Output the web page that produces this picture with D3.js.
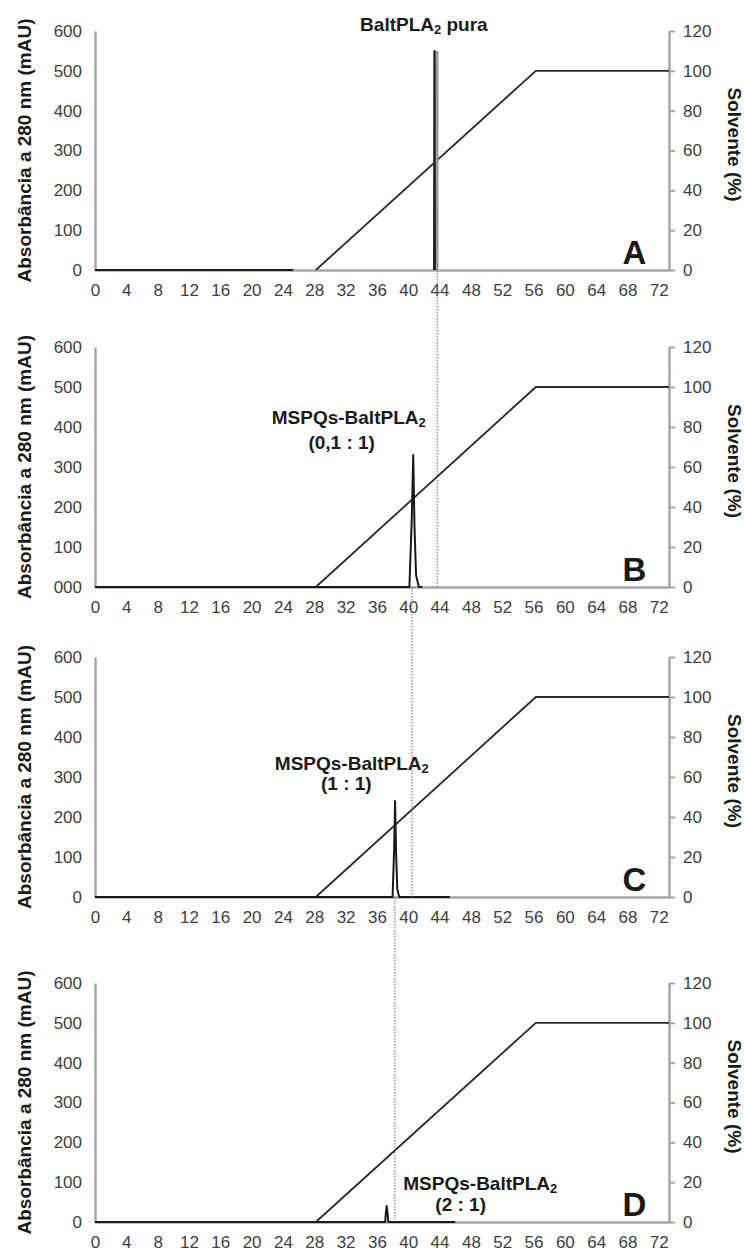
<!DOCTYPE html>
<html lang="pt">
  <head>
    <meta charset="UTF-8" />
    <title>Cromatogramas BaltPLA2</title>
    <script src="https://d3js.org/d3.v7.min.js"></script>
    <style>
      * {
        margin: 0;
        padding: 0;
      }
      body {
        background: #fff;
      }
      text {
        font-family: "Liberation Sans", Arial, sans-serif;
      }
      .tick text {
        font-size: 17px;
        fill: #404040;
      }
      .axis-title {
        font-size: 19px;
        font-weight: bold;
        fill: #1a1a1a;
      }
      .panel-letter {
        font-size: 33px;
        font-weight: bold;
        fill: #1a1a1a;
      }
      .note {
        font-size: 19px;
        font-weight: bold;
        fill: #1a1a1a;
      }
    </style>
  </head>

  <body></body>

  <script>
    const w = 744;
    const h = 1251;

    // eixos
    const timeTicks = [0, 4, 8, 12, 16, 20, 24, 28, 32, 36, 40, 44, 48, 52, 56, 60, 64, 68, 72];
    const absTicks = [0, 100, 200, 300, 400, 500, 600];
    const solvTicks = [0, 20, 40, 60, 80, 100, 120];
    const zeroLabels = ["0", "000", "0", "0"]; // o painel B mostra "000"

    // gradiente de solvente (%), igual nos 4 paineis
    const gradTime = [28.2, 56.3, 73.3];
    const gradPct = [0, 100, 100];

    // cromatogramas (null = interrupcao da linha)
    const timeA = [0, 25.3, 25.4, 43.3, 43.35, 43.4];
    const absA = [0, 0, null, 0, 550, 0];
    const pureTime = [43.55, 43.55]; // faixa cinza da BaltPLA2 pura
    const pureAbs = [0, 550];

    const timeB = [0, 40.15, 40.45, 40.64, 40.8, 41.0, 41.35, 41.8];
    const absB = [0, 0, 170, 330, 150, 30, 0, 0];

    const timeC = [0, 38.0, 38.2, 38.32, 38.45, 38.6, 38.85, 45.3];
    const absC = [0, 0, 120, 240, 110, 20, 0, 0];

    const timeD = [0, 37.05, 37.15, 37.25, 37.35, 37.45, 46];
    const absD = [0, 0, 25, 40, 25, 0, 0];

    // linhas pontilhadas que ligam o pico de um painel ao seguinte
    const linkTime = [43.7, 40.48, 38.3];

    // anotacoes: [tempo, absorbancia] da linha de base do texto
    const notes = [
      [{ t: 42.0, v: 600, text: "BaltPLA", sub: "2", after: " pura" }],
      [
        { t: 32.4, v: 408, text: "MSPQs-BaltPLA", sub: "2", after: "" },
        { t: 31.5, v: 345, text: "(0,1 : 1)", sub: "", after: "" },
      ],
      [
        { t: 32.8, v: 318, text: "MSPQs-BaltPLA", sub: "2", after: "" },
        { t: 32.1, v: 267, text: "(1 : 1)", sub: "", after: "" },
      ],
      [
        { t: 49.2, v: 80, text: "MSPQs-BaltPLA", sub: "2", after: "" },
        { t: 46.7, v: 28, text: "(2 : 1)", sub: "", after: "" },
      ],
    ];

    const traces = [
      [timeA, absA],
      [timeB, absB],
      [timeC, absC],
      [timeD, absD],
    ];
    const letters = ["A", "B", "C", "D"];

    // layout dos paineis
    const panelTop = [31, 347, 657, 983];
    const panelBottom = [270, 587, 897, 1222];
    const left = 95;
    const right = 669;
    const axisGray = "#a6a6a6";

    let svg = d3
      .select("body")
      .append("svg")
      .attr("width", w)
      .attr("height", h);

    let x = d3.scaleLinear().domain([0, 73.3]).range([left, right]);

    let ys = [];

    panelTop.forEach((top, i) => {
      let bottom = panelBottom[i];
      let y = d3.scaleLinear().domain([0, 600]).range([bottom, top]);
      let y2 = d3.scaleLinear().domain([0, 120]).range([bottom, top]);
      ys.push(y);

      let g = svg.append("g").attr("class", "panel");

      // eixo esquerdo
      let ay = g
        .append("g")
        .attr("transform", "translate(" + left + ",0)")
        .call(
          d3
            .axisLeft(y)
            .tickValues(absTicks)
            .tickSize(0)
            .tickPadding(13)
            .tickFormat((d) => (d === 0 ? zeroLabels[i] : d))
        );
      ay.select(".domain").attr("stroke", axisGray).attr("stroke-width", 2.5);

      // eixo direito
      let ay2 = g
        .append("g")
        .attr("transform", "translate(" + right + ",0)")
        .call(
          d3
            .axisRight(y2)
            .tickValues(solvTicks)
            .tickSize(6)
            .tickSizeOuter(0)
            .tickPadding(8)
        );
      ay2.select(".domain").attr("stroke", axisGray).attr("stroke-width", 2.5);
      ay2.selectAll(".tick line").attr("stroke", axisGray).attr("stroke-width", 2);

      // eixo inferior
      let ax = g
        .append("g")
        .attr("transform", "translate(0," + bottom + ")")
        .call(
          d3.axisBottom(x).tickValues(timeTicks).tickSize(0).tickPadding(14)
        );
      ax.select(".domain").attr("stroke", axisGray).attr("stroke-width", 2.5);

      // titulos dos eixos
      g.append("text")
        .attr("class", "axis-title")
        .attr("transform", "translate(31," + (top + bottom) / 2 + ") rotate(-90)")
        .attr("text-anchor", "middle")
        .text("Absorbância a 280 nm (mAU)");

      g.append("text")
        .attr("class", "axis-title")
        .attr("transform", "translate(728," + ((top + bottom) / 2 - 6) + ") rotate(90)")
        .attr("text-anchor", "middle")
        .text("Solvente (%)");

      // gradiente
      let grad = d3
        .line()
        .x((d) => x(d[0]))
        .y((d) => y2(d[1]));
      g.append("path")
        .datum(gradTime.map((t, k) => [t, gradPct[k]]))
        .attr("d", grad)
        .attr("fill", "none")
        .attr("stroke", "#2a2a2a")
        .attr("stroke-width", 1.8);

      // faixa cinza (A)
      if (i === 0) {
        g.append("path")
          .datum(pureTime.map((t, k) => [t, pureAbs[k]]))
          .attr(
            "d",
            d3
              .line()
              .x((d) => x(d[0]))
              .y((d) => y(d[1]))
          )
          .attr("stroke", "#9a9a9a")
          .attr("stroke-width", 5);
      }

      // cromatograma
      let tr = traces[i];
      let line = d3
        .line()
        .defined((d) => d[1] != null)
        .x((d) => x(d[0]))
        .y((d) => y(d[1]));
      g.append("path")
        .datum(tr[0].map((t, k) => [t, tr[1][k]]))
        .attr("d", line)
        .attr("fill", "none")
        .attr("stroke", "#1a1a1a")
        .attr("stroke-width", 2)
        .attr("stroke-linejoin", "round");

      // letra do painel
      g.append("text")
        .attr("class", "panel-letter")
        .attr("x", x(70.4))
        .attr("y", bottom - 6)
        .attr("text-anchor", "end")
        .text(letters[i]);

      // anotacoes
      notes[i].forEach((n) => {
        let t = g
          .append("text")
          .attr("class", "note")
          .attr("x", x(n.t))
          .attr("y", y(n.v))
          .attr("text-anchor", "middle");
        t.append("tspan").text(n.text);
        if (n.sub) {
          t.append("tspan").attr("font-size", "13px").attr("dy", 3).text(n.sub);
          t.append("tspan").attr("dy", -3).text(n.after);
        }
      });
    });

    // linhas pontilhadas entre paineis
    linkTime.forEach((t, i) => {
      svg
        .append("line")
        .attr("x1", x(t))
        .attr("x2", x(t))
        .attr("y1", ys[i](0))
        .attr("y2", ys[i + 1](0))
        .attr("stroke", "#666")
        .attr("stroke-width", 1)
        .attr("stroke-dasharray", "1.5,1.5");
    });
  </script>
</html>
